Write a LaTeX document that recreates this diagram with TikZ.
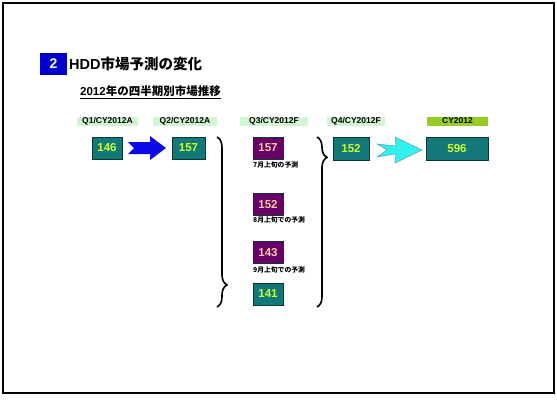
\documentclass[tikz,border=0pt]{standalone}
\usepackage{fontspec}
\setmainfont{Liberation Sans}
\newfontfamily\jp{Noto Sans CJK JP}
\usetikzlibrary{decorations.pathreplacing}
\definecolor{titleblue}{HTML}{0000CC}
\definecolor{boxteal}{HTML}{137878}
\definecolor{boxedge}{HTML}{0B3434}
\definecolor{numgreen}{HTML}{CCFF33}
\definecolor{boxpurple}{HTML}{680068}
\definecolor{numpeach}{HTML}{FFCC99}
\definecolor{tagmint}{HTML}{D2F5D2}
\definecolor{tagolive}{HTML}{99CC22}
\definecolor{arrblue}{HTML}{0A0AE6}
\definecolor{arrcyan}{HTML}{33F0F0}

\tikzset{
  qtag/.style={fill=tagmint,inner sep=0pt,minimum height=9pt,
    font=\bfseries\fontsize{8.5}{9}\selectfont},
  tealbox/.style={draw=boxedge,line width=0.8pt,fill=boxteal,text=numgreen,
    inner sep=0pt,minimum height=22pt,font=\bfseries\fontsize{11.5}{12}\selectfont},
  purplebox/.style={tealbox,fill=boxpurple,text=numpeach},
  memo/.style={anchor=west,inner sep=0pt,font=\jp\bfseries\fontsize{6.8}{7}\selectfont},
  bigbrace/.style={decorate,line width=1.6pt,
    decoration={brace,amplitude=10pt,aspect=#1}}
}

\begin{document}
\begin{tikzpicture}[x=1pt,y=-1pt]
  \useasboundingbox (0,0) rectangle (557,400);
  \draw[line width=1.5pt] (3,3) rectangle (554,393);

  % heading
  \node[fill=titleblue,text=white,minimum width=27pt,minimum height=22pt,inner sep=0pt,
    font=\bfseries\fontsize{14}{15}\selectfont] (num) at (53.5,64) {2};
  \node[anchor=west,inner sep=0pt,font=\bfseries\fontsize{14.5}{16}\selectfont] (title) at (69,64)
    {HDD{\jp 市場予測の変化}};
  \node[anchor=west,inner sep=0pt,font=\bfseries\fontsize{11.5}{12}\selectfont] (sub) at (80,92)
    {\underline{2012{\jp 年の四半期別市場推移}}};

  % quarter tags
  \foreach \x/\w/\name/\txt in {
    107.5/61/q1/{Q1/CY2012A},
    185/64/q2/{Q2/CY2012A},
    274/68/q3/{Q3/CY2012F},
    356/58/q4/{Q4/CY2012F}
  } {
    \node[qtag,minimum width=\w pt] (\name) at (\x,121) {\txt};
  }
  \node[qtag,fill=tagolive,minimum width=61pt] (cy) at (457.5,121) {CY2012};

  % values
  \node[tealbox,minimum width=30pt] (v146) at (107,148) {146};
  \node[tealbox,minimum width=33pt] (v157) at (188.5,148) {157};
  \node[tealbox,minimum width=36pt,minimum height=23pt] (v152) at (351,148.5) {152};
  \node[tealbox,minimum width=62pt,minimum height=23pt] (v596) at (457,148.5) {596};

  \foreach \y/\val/\name in {148/157/p157,204.5/152/p152,252.5/143/p143} {
    \node[purplebox,minimum width=30pt] (\name) at (268,\y) {\val};
  }
  \node[tealbox,minimum width=30pt] (v141) at (268,294) {141};

  \node[memo] (m7) at (253,165) {7月上旬の予測};
  \node[memo] (m8) at (253,220) {8月上旬での予測};
  \node[memo] (m9) at (253,270) {9月上旬での予測};

  % braces
  \draw[bigbrace=0.87] (217,137) -- (217,307);
  \draw[bigbrace=0.12] (317,137) -- (317,307);

  % block arrows
  \fill[arrblue] (128,142) -- (150,142) -- (150,136) -- (166,148) -- (150,160)
    -- (150,154) -- (128,154) -- (134,148) -- cycle;
  \filldraw[fill=arrcyan,draw=boxteal!70,line width=0.5pt] (377,144) -- (396,146)
    -- (395,137) -- (422,150) -- (395,163) -- (396,154) -- (377,157) -- (387,150) -- cycle;
\end{tikzpicture}
\end{document}
